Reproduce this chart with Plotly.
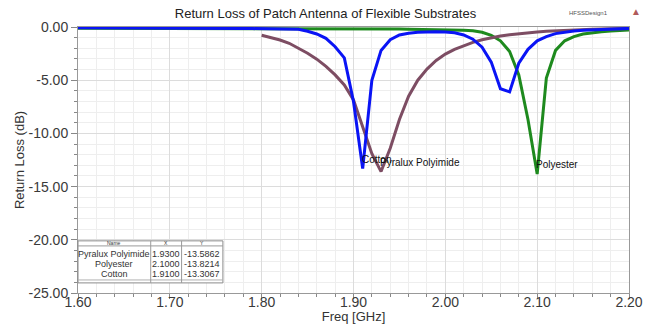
import plotly.graph_objects as go

# Sweep frequencies (GHz), 10 MHz step
freq_full = [1.60, 1.61, 1.62, 1.63, 1.64, 1.65, 1.66, 1.67, 1.68, 1.69,
             1.70, 1.71, 1.72, 1.73, 1.74, 1.75, 1.76, 1.77, 1.78, 1.79,
             1.80, 1.81, 1.82, 1.83, 1.84, 1.85, 1.86, 1.87, 1.88, 1.89,
             1.90, 1.91, 1.92, 1.93, 1.94, 1.95, 1.96, 1.97, 1.98, 1.99,
             2.00, 2.01, 2.02, 2.03, 2.04, 2.05, 2.06, 2.07, 2.08, 2.09,
             2.10, 2.11, 2.12, 2.13, 2.14, 2.15, 2.16, 2.17, 2.18, 2.19, 2.20]
freq_pyralux = [1.80, 1.81, 1.82, 1.83, 1.84, 1.85, 1.86, 1.87, 1.88, 1.89,
                1.90, 1.91, 1.92, 1.93, 1.94, 1.95, 1.96, 1.97, 1.98, 1.99,
                2.00, 2.01, 2.02, 2.03, 2.04, 2.05, 2.06, 2.07, 2.08, 2.09,
                2.10, 2.11, 2.12, 2.13, 2.14, 2.15, 2.16, 2.17, 2.18, 2.19, 2.20]

# S11 (dB) for each substrate
s11_pyralux = [-0.78, -0.97, -1.22, -1.53, -1.98, -2.47, -3.02, -3.70, -4.50, -5.45,
               -6.86, -9.40, -11.90, -13.5862, -11.40, -8.70, -6.50, -5.00, -3.95, -3.15,
               -2.55, -2.10, -1.75, -1.45, -1.20, -1.00, -0.85, -0.72, -0.62, -0.54,
               -0.47, -0.41, -0.36, -0.32, -0.28, -0.25, -0.22, -0.19, -0.17, -0.15, -0.13]

s11_polyester = [-0.12, -0.12, -0.12, -0.12, -0.12, -0.12, -0.12, -0.12, -0.12, -0.12,
                 -0.12, -0.12, -0.12, -0.12, -0.12, -0.12, -0.12, -0.12, -0.12, -0.12,
                 -0.13, -0.13, -0.13, -0.13, -0.13, -0.14, -0.14, -0.14, -0.15, -0.15,
                 -0.16, -0.16, -0.17, -0.17, -0.18, -0.19, -0.20, -0.21, -0.22, -0.23,
                 -0.25, -0.27, -0.30, -0.36, -0.50, -0.78, -1.30, -2.30, -4.50, -8.70,
                 -13.8214, -4.80, -2.20, -1.30, -0.90, -0.66, -0.53, -0.44, -0.38, -0.32, -0.28]

s11_cotton = [-0.08, -0.08, -0.08, -0.08, -0.09, -0.09, -0.09, -0.09, -0.10, -0.10,
              -0.10, -0.10, -0.11, -0.11, -0.11, -0.12, -0.12, -0.13, -0.14, -0.15,
              -0.16, -0.17, -0.18, -0.19, -0.22, -0.40, -0.66, -1.07, -1.85, -2.90,
              -7.00, -13.3067, -5.00, -2.20, -1.20, -0.75, -0.58, -0.50, -0.46, -0.45,
              -0.47, -0.55, -0.75, -1.15, -1.90, -3.30, -5.80, -6.10, -3.40, -2.10,
              -1.30, -0.90, -0.62, -0.47, -0.38, -0.31, -0.26, -0.22, -0.18, -0.15, -0.13]

# Marker table (name, frequency, value)
marker_names = ["Pyralux Polyimide", "Polyester", "Cotton"]
marker_freq = [1.93, 2.10, 1.91]
marker_label = ["Pyralux Polyimide", "Polyester", "Cotton"]

# Axis ticks
x_ticks = [1.60, 1.70, 1.80, 1.90, 2.00, 2.10, 2.20]
x_ticktext = ["1.60", "1.70", "1.80", "1.90", "2.00", "2.10", "2.20"]
y_ticks = [0, -5, -10, -15, -20, -25]
y_ticktext = ["0.00", "-5.00", "-10.00", "-15.00", "-20.00", "-25.00"]

COL_PYRALUX = "#7d4d63"
COL_POLYESTER = "#1e8a1e"
COL_COTTON = "#0a14f5"
FONT = "Liberation Sans, Arial, sans-serif"

fig = go.Figure()
fig.add_trace(go.Scatter(x=freq_full, y=s11_polyester, mode="lines",
                         line=dict(color=COL_POLYESTER, width=3), name="Polyester"))
fig.add_trace(go.Scatter(x=freq_pyralux, y=s11_pyralux, mode="lines",
                         line=dict(color=COL_PYRALUX, width=3), name="Pyralux Polyimide"))
fig.add_trace(go.Scatter(x=freq_full, y=s11_cotton, mode="lines",
                         line=dict(color=COL_COTTON, width=3), name="Cotton"))

series_lookup = {
    "Pyralux Polyimide": (freq_pyralux, s11_pyralux),
    "Polyester": (freq_full, s11_polyester),
    "Cotton": (freq_full, s11_cotton),
}
marker_vals = []
for name, f in zip(marker_names, marker_freq):
    fx, fy = series_lookup[name]
    marker_vals.append(fy[fx.index(f)])

annotations = []
# Marker labels next to each resonance
for name, f, v in zip(marker_label, marker_freq, marker_vals):
    annotations.append(dict(x=f, y=v, xref="x", yref="y", text=name, showarrow=False,
                            xanchor="left", yanchor="bottom", xshift=-3, yshift=2,
                            font=dict(family=FONT, size=10, color="#111111")))

# Marker table in the lower-left corner (paper coordinates)
tx0, tx1 = 0.0, 0.263
tc1, tc2 = 0.132, 0.188
ty_top, ty_head, ty_bot_line, ty_bot = 0.196, 0.177, 0.049, 0.038
shapes = [
    dict(type="rect", xref="paper", yref="paper", x0=tx0, x1=tx1, y0=ty_bot, y1=ty_top,
         line=dict(color="#8a8a8a", width=1), fillcolor="white", layer="above"),
    dict(type="line", xref="paper", yref="paper", x0=tx0, x1=tx1, y0=ty_head, y1=ty_head,
         line=dict(color="#9a9a9a", width=1), layer="above"),
    dict(type="line", xref="paper", yref="paper", x0=tx0, x1=tx1, y0=ty_bot_line, y1=ty_bot_line,
         line=dict(color="#b0b0b0", width=1), layer="above"),
    dict(type="line", xref="paper", yref="paper", x0=tc1, x1=tc1, y0=ty_bot, y1=ty_top,
         line=dict(color="#9a9a9a", width=1), layer="above"),
    dict(type="line", xref="paper", yref="paper", x0=tc2, x1=tc2, y0=ty_bot, y1=ty_top,
         line=dict(color="#9a9a9a", width=1), layer="above"),
]
col_centers = [(tx0 + tc1) / 2, (tc1 + tc2) / 2, (tc2 + tx1) / 2]
head_y = (ty_top + ty_head) / 2
for cx, h in zip(col_centers, ["Name", "X", "Y"]):
    annotations.append(dict(x=cx, y=head_y, xref="paper", yref="paper", text=h,
                            xanchor="center", yanchor="middle",
                            showarrow=False, font=dict(family=FONT, size=5, color="#333333")))
row_ys = [0.147, 0.109, 0.071]
for ry, name, f, v in zip(row_ys, marker_names, marker_freq, marker_vals):
    for cx, t in zip(col_centers, [name, f"{f:.4f}", f"{v:.4f}"]):
        annotations.append(dict(x=cx, y=ry, xref="paper", yref="paper", text=t,
                                xanchor="center", yanchor="middle", showarrow=False,
                                font=dict(family=FONT, size=9, color="#333333")))

# Design name tag in the top-right corner
annotations.append(dict(x=0.965, y=1.052, xref="paper", yref="paper",
                        text="HFSSDesign1", showarrow=False,
                        xanchor="right", yanchor="middle",
                        font=dict(family=FONT, size=6, color="#555555")))
annotations.append(dict(x=1.013, y=1.06, xref="paper", yref="paper", text="▲",
                        showarrow=False, xanchor="center", yanchor="middle",
                        font=dict(family=FONT, size=10, color="#b05a5a")))

fig.update_layout(
    width=651, height=324,
    margin=dict(l=78, r=22, t=27, b=31),
    paper_bgcolor="white", plot_bgcolor="white",
    showlegend=False,
    font=dict(family=FONT, color="#333333"),
    title=dict(text="Return Loss of Patch Antenna of Flexible Substrates",
               x=0.5, xref="container", xanchor="center", y=0.958, yanchor="middle",
               font=dict(family=FONT, size=13, color="#222222")),
    annotations=annotations,
    shapes=shapes,
)
fig.update_xaxes(
    range=[1.6, 2.2], tickvals=x_ticks, ticktext=x_ticktext, automargin=False,
    showgrid=True, gridcolor="#dcdcdc", gridwidth=1,
    minor=dict(dtick=0.02, showgrid=True, gridcolor="#eeeeee", ticks="outside",
               ticklen=3, tickcolor="#888888"),
    ticks="outside", ticklen=5, tickcolor="#888888", ticklabelstandoff=-9,
    showline=True, linecolor="#999999", mirror=True, zeroline=False,
    tickfont=dict(family=FONT, size=14, color="#3a3a3a"),
    title=dict(text="Freq [GHz]", standoff=0, font=dict(family=FONT, size=13, color="#333333")),
)
fig.update_yaxes(
    range=[-25, 0], tickvals=y_ticks, ticktext=y_ticktext, automargin=False,
    showgrid=True, gridcolor="#dcdcdc", gridwidth=1,
    minor=dict(dtick=1, showgrid=True, gridcolor="#eeeeee", ticks="outside",
               ticklen=3, tickcolor="#888888"),
    ticks="outside", ticklen=6, tickcolor="#888888",
    showline=True, linecolor="#999999", mirror=True, zeroline=False,
    tickfont=dict(family=FONT, size=14, color="#3a3a3a"),
    title=dict(text="Return Loss (dB)", standoff=0, font=dict(family=FONT, size=13, color="#333333")),
)

fig.write_html("out.html")
